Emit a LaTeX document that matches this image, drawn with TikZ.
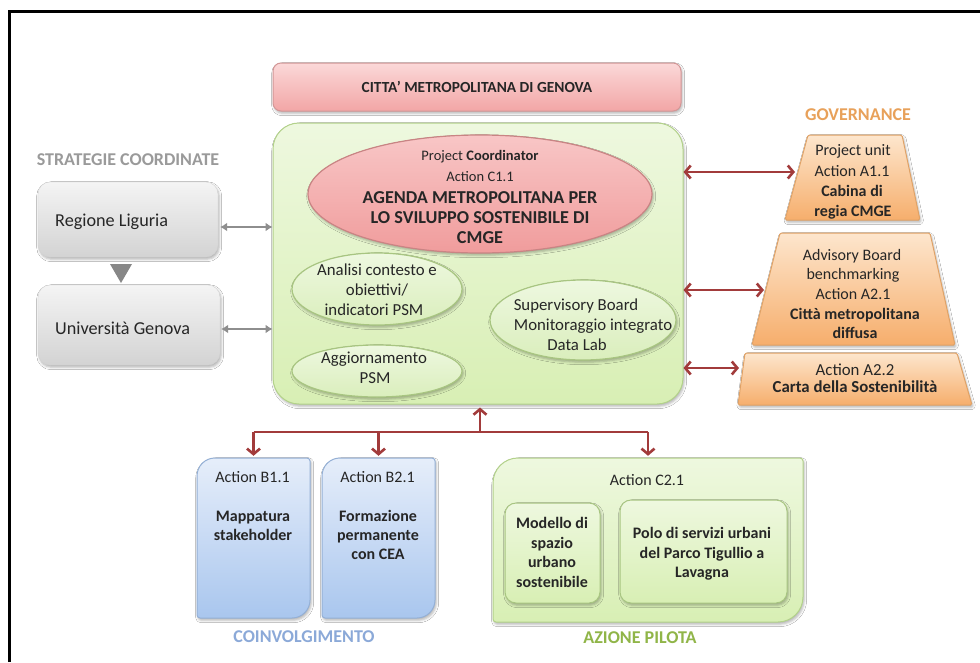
\documentclass[tikz,border=0pt]{standalone}
\usepackage{fontspec}
\setmainfont{Carlito}
\usetikzlibrary{shapes.geometric,arrows.meta,shadows.blur,calc}
\definecolor{arrred}{HTML}{A23B3B}
\definecolor{arrgray}{HTML}{8E8E8E}
\definecolor{txtc}{HTML}{262626}
\definecolor{pinkT}{HTML}{FBD8D8}
\definecolor{pinkB}{HTML}{F2A6A6}
\definecolor{pinkD}{HTML}{D39696}
\definecolor{ellT}{HTML}{F8C6C6}
\definecolor{ellB}{HTML}{F09C9C}
\definecolor{ellD}{HTML}{C98484}
\definecolor{grT}{HTML}{EEF8DF}
\definecolor{grB}{HTML}{D8EFB4}
\definecolor{grD}{HTML}{B3D28A}
\definecolor{seT}{HTML}{EEF8E0}
\definecolor{seB}{HTML}{DAEEBC}
\definecolor{seD}{HTML}{A8C581}
\definecolor{gyT}{HTML}{F4F4F4}
\definecolor{gyB}{HTML}{D3D3D3}
\definecolor{blT}{HTML}{E6EEFA}
\definecolor{blB}{HTML}{A9C6EE}
\definecolor{blD}{HTML}{94B0D6}
\definecolor{orT}{HTML}{FDE6CD}
\definecolor{orB}{HTML}{F6AE6C}
\definecolor{orD}{HTML}{E0A266}
\definecolor{lblGray}{HTML}{9A9A9A}
\definecolor{lblOr}{HTML}{E8A15A}
\definecolor{lblBl}{HTML}{8BA9D8}
\definecolor{lblGr}{HTML}{90B548}
\newcommand\fsz[1]{\fontsize{#1pt}{#1pt}\selectfont}
\newcommand\mydiagbox[6]{\path[#1] (#2,#5-3) -- (#2,#3+#6) arc[start angle=180,end angle=270,radius=#6] -- (#4-3,#3) arc[start angle=270,end angle=360,radius=3] -- (#4,#5-#6) arc[start angle=0,end angle=90,radius=#6] -- (#2+3,#5) arc[start angle=90,end angle=180,radius=3] -- cycle;}
\begin{document}
\begin{tikzpicture}[x=1pt,y=-1pt,
  shd/.style={blur shadow={shadow xshift=1.2pt,shadow yshift=-2.2pt,shadow blur radius=2.5pt,shadow opacity=30}},
  lb/.style={anchor=base,inner sep=0pt,text=txtc},
  r13/.style={lb,font=\fsz{14.5}},
  r16/.style={lb,font=\fsz{16}},
  b16/.style={lb,font=\fsz{16}\bfseries},
  re/.style={lb,font=\fsz{16.8}},
  r17/.style={lb,font=\fsz{18.2}},
  b17/.style={lb,font=\fsz{18.2}\bfseries},
  grp/.style={anchor=base,inner sep=0pt,font=\fsz{18}\bfseries},
  redarr/.style={draw=arrred,line width=2.6pt,arrows={Straight Barb[length=5.5pt,width=13pt]-Straight Barb[length=5.5pt,width=13pt]}},
  redone/.style={draw=arrred,line width=2.6pt,arrows={-Straight Barb[length=5.5pt,width=13pt]}},
  redline/.style={draw=arrred,line width=2.6pt},
  grayarr/.style={draw=arrgray,line width=2pt,arrows={Latex[length=7pt,width=9pt]-Latex[length=7pt,width=9pt]}},
  greenell/.style={ellipse,shd,top color=seT,bottom color=seB,draw=seD,line width=1.2pt,inner sep=0pt},
  graybox/.style={rounded corners=12pt,shd,top color=gyT,bottom color=gyB,draw=gyB,inner sep=0pt},
  bluebox/.style={shd,top color=blT,bottom color=blB,draw=blD,line width=1pt},
  c2box/.style={shd,top color=grT,bottom color=grB,draw=grD,line width=1pt},
  inbox/.style={rounded corners=11pt,shd,top color=grT,bottom color=grB,draw=seD,line width=1pt,inner sep=0pt},
  trap/.style={shd,rounded corners=1.5pt,top color=orT,bottom color=orB,draw=orD,line width=1pt}
]
\useasboundingbox (0,0) rectangle (980,662);
\fill[white] (0,0) rectangle (980,662);
% frame
\draw[line width=3pt,black] (9.5,662) -- (9.5,11.5) -- (980,11.5);

% top box
\node[shd,rounded corners=8pt,top color=pinkT,bottom color=pinkB,draw=pinkD,line width=1pt,
  minimum width=408pt,minimum height=48pt,inner sep=0pt,text=txtc,font=\fsz{15.4}\bfseries] (citta) at (477,87) {CITTA' METROPOLITANA DI GENOVA};

% main green box
\node[shd,rounded corners=26pt,top color=grT,bottom color=grB,draw=grD,line width=1pt,
  minimum width=410pt,minimum height=281pt,inner sep=0pt] (main) at (478,263.5) {};

% central ellipse
\node[ellipse,shd,top color=ellT,bottom color=ellB,draw=ellD,line width=1.2pt,
  minimum width=344pt,minimum height=118pt,inner sep=0pt] (c11) at (480,194) {};
\node[r13] (pc) at (480,160) {Project \textbf{Coordinator}};
\node[r13] (ac1) at (480,181) {Action C1.1};
\node[b17] (ag1) at (480,203.5) {AGENDA METROPOLITANA PER};
\node[b17] (ag2) at (480,223) {LO SVILUPPO SOSTENIBILE DI};
\node[b17] (ag3) at (480,243) {CMGE};

% small ellipses
\node[greenell,minimum width=170pt,minimum height=72pt] (ana) at (377,289) {};
\node[re] (ana1) at (377,275) {Analisi contesto e};
\node[re] (ana2) at (377,295) {obiettivi/};
\node[re] (ana3) at (374,315) {indicatori PSM};

\node[greenell,minimum width=186pt,minimum height=80pt] (sup) at (583,320) {};
\node[re] (sup1) at (576,310) {Supervisory Board};
\node[re] (sup2) at (593,330) {Monitoraggio integrato};
\node[re] (sup3) at (577,350) {Data Lab};

\node[greenell,minimum width=170pt,minimum height=52pt] (agg) at (377,371) {};
\node[re] (agg1) at (374,363) {Aggiornamento};
\node[re] (agg2) at (375,383) {PSM};

% left: strategie coordinate
\node[grp,text=lblGray] (strat) at (128,165.5) {STRATEGIE COORDINATE};
\node[graybox,minimum width=180pt,minimum height=75pt] (reg) at (128,219.5) {};
\node[r17,anchor=base west] (regt) at (55,226) {Regione Liguria};
\node[graybox,minimum width=182pt,minimum height=80pt] (uni) at (129,325) {};
\node[r17,anchor=base west] (unit) at (55,334) {Università Genova};
\fill[arrgray!95!black] (110,264) -- (132,264) -- (121,283) -- cycle;
\coordinate (ra) at ($(reg.east)+(2,7.5)$);
\coordinate (ua) at ($(uni.east)+(1,4)$);
\draw[grayarr] (ra) -- (ra -| main.west);
\draw[grayarr] (ua) -- (ua -| main.west);

% governance
\node[grp,text=lblOr] (gov) at (858,120.5) {GOVERNANCE};
\path[trap] (808,135) -- (902,135) -- (920,220) -- (785,220) -- cycle;
\path[trap] (780,233) -- (930,233) -- (955,345) -- (752,345) -- cycle;
\path[trap] (745,353) -- (957,353) -- (972,405) -- (738,405) -- cycle;
\node[r16] (t1a) at (853,155.5) {Project unit};
\node[r16] (t1b) at (852,176) {Action A1.1};
\node[b16] (t1c) at (852,196.5) {Cabina di};
\node[b16] (t1d) at (853,216) {regia CMGE};
\node[r16] (t2a) at (852,260) {Advisory Board};
\node[r16] (t2b) at (853,279) {benchmarking};
\node[r16] (t2c) at (853,299) {Action A2.1};
\node[b16] (t2d) at (855,319.5) {Città metropolitana};
\node[b16] (t2e) at (855,338.5) {diffusa};
\node[lb,font=\fsz{16.8}] (t3a) at (855,375) {Action A2.2};
\node[lb,font=\fsz{16.8}\bfseries] (t3b) at (855,392) {Carta della Sostenibilità};
\coordinate (t1w) at (795,172);
\coordinate (t2w) at (764,290);
\coordinate (t3w) at (739,368);
\draw[redarr] (main.east |- t1w) -- (t1w);
\draw[redarr] (main.east |- t2w) -- (t2w);
\draw[redarr] (main.east |- t3w) -- (t3w);

% coinvolgimento
\mydiagbox{bluebox}{197}{458}{310}{618}{18}
\mydiagbox{bluebox}{322}{458}{435}{618}{18}
\node[inner sep=0pt,minimum width=113pt,minimum height=160pt] (b1) at (253.5,538) {};
\node[inner sep=0pt,minimum width=113pt,minimum height=160pt] (b2) at (378.5,538) {};
\node[r16] (b1a) at (252.5,482) {Action B1.1};
\node[b16] (b1b) at (253,521) {Mappatura};
\node[b16] (b1c) at (253,540) {stakeholder};
\node[r16] (b2a) at (377.5,482) {Action B2.1};
\node[b16] (b2b) at (378,521) {Formazione};
\node[b16] (b2c) at (378,540) {permanente};
\node[b16] (b2d) at (378,559) {con CEA};
\node[grp,text=lblBl] (coin) at (304,642.5) {COINVOLGIMENTO};

% azione pilota
\mydiagbox{c2box}{493}{458}{803}{622}{25}
\node[inner sep=0pt,minimum width=310pt,minimum height=164pt] (c2) at (648,540) {};
\node[r16] (c2a) at (647,485) {Action C2.1};
\node[inbox,minimum width=95pt,minimum height=100pt] (mod) at (552.5,553) {};
\node[inbox,minimum width=167pt,minimum height=103pt] (polo) at (703.5,551.5) {};
\node[b16] (m1) at (552,528) {Modello di};
\node[b16] (m2) at (552,548) {spazio};
\node[b16] (m3) at (552,567) {urbano};
\node[b16] (m4) at (552,587) {sostenibile};
\node[b16] (p1) at (702,538) {Polo di servizi urbani};
\node[b16] (p2) at (702,558) {del Parco Tigullio a};
\node[b16] (p3) at (702,577) {Lavagna};
\node[grp,text=lblGr] (pil) at (640,643.5) {AZIONE PILOTA};

% bottom connectors
\coordinate (bus) at (480,432);
\draw[redline] (b1.north |- bus) -- (c2.north |- bus);
\draw[redone,shorten >=3pt] (bus) -- (bus |- main.south);
\draw[redone,shorten >=2pt] (b1.north |- bus) -- (b1.north);
\draw[redone,shorten >=2pt] (b2.north |- bus) -- (b2.north);
\draw[redone,shorten >=2pt] (c2.north |- bus) -- (c2.north);
\end{tikzpicture}
\end{document}
